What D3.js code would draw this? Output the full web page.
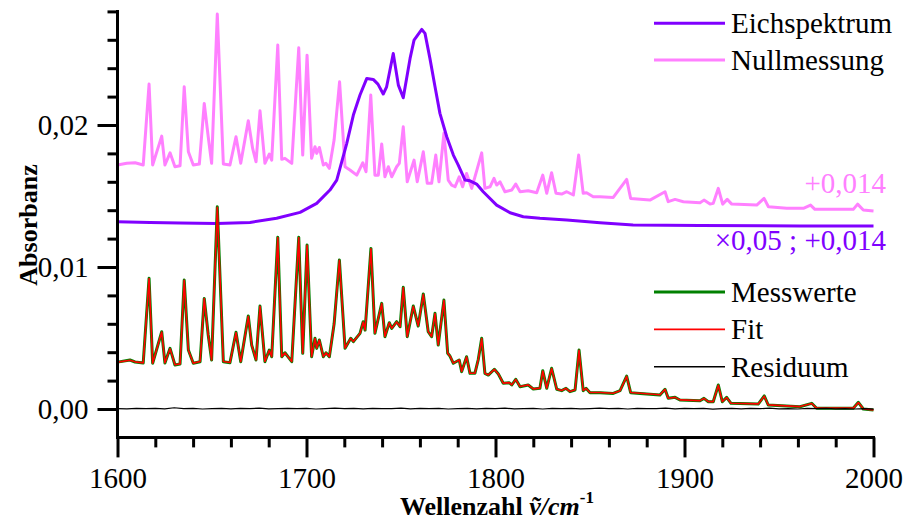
<!DOCTYPE html>
<html><head><meta charset="utf-8">
<script src="https://cdn.jsdelivr.net/npm/d3@7"></script>
<style>body{margin:0;background:#fff}svg{display:block}</style>
</head><body>
<svg id="c" width="904" height="525"></svg>
<script>
// ---- data ----
const wnM = [1600,1606.6,1609.3,1613.6,1616.7,1618.6,1623.4,1625.1,1627.8,1630.4,
1633.1,1635.3,1637.5,1640.1,1643.7,1645.9,1648.0,1649.8,1652.8,1656.0,
1659.5,1662.7,1665.2,1669.2,1671.0,1673.3,1675.4,1678.0,1680.3,1681.6,
1684.8,1686.9,1688.6,1692.2,1695.9,1698.0,1700.3,1702.7,1704.5,1705.4,
1706.8,1708.9,1710.3,1712.1,1714.6,1717.4,1720.4,1723.4,1724.8,1728.3,
1730.0,1731.0,1734.1,1736.2,1739.8,1741.5,1743.8,1745.1,1747.7,1749.5,
1751.2,1753.3,1756.5,1759.1,1761.8,1764.4,1766.2,1768.0,1769.7,1772.7,
1774.7,1775.9,1777.7,1780.8,1782.1,1784.7,1786.5,1789.1,1790.9,1792.7,
1794.4,1796.2,1799.4,1801.5,1804.1,1807.3,1808.6,1810.7,1813.0,1817.3,
1820.0,1823.5,1825.0,1827.1,1829.7,1832.4,1835.0,1837.3,1839.4,1842.1,
1844.2,1846.4,1847.9,1850.0,1855.3,1862.3,1865.9,1869.4,1871.5,1876.5,
1887.0,1889.7,1891.4,1895.0,1897.6,1908.2,1910.3,1912.6,1915.2,1917.9,
1920.0,1922.3,1924.6,1939.0,1942.2,1944.3,1961.1,1967.3,1969.9,1989.3,
1992.0,1994.6,2000];
const messwerte = [0.0033,0.00345,0.00331,0.00324,0.0092,0.00322,0.00544,0.00324,0.00427,0.0031,
0.00317,0.00908,0.00415,0.00322,0.00333,0.00779,0.00521,0.00345,0.01424,0.00333,
0.00326,0.0054,0.00333,0.00655,0.0045,0.00345,0.00725,0.00333,0.00415,0.00368,
0.01209,0.00368,0.00396,0.00333,0.01209,0.00392,0.01155,0.00368,0.00498,0.00427,
0.00486,0.00368,0.00396,0.00368,0.00598,0.01049,0.00427,0.00498,0.00474,0.00533,
0.00615,0.00556,0.01131,0.00533,0.00744,0.00509,0.00608,0.00568,0.00615,0.00579,
0.00857,0.00509,0.00725,0.00584,0.0081,0.00544,0.00509,0.00674,0.0045,0.00767,
0.00392,0.00373,0.00322,0.00345,0.00263,0.00368,0.00251,0.00251,0.0035,0.00498,
0.00251,0.00239,0.0028,0.00246,0.00181,0.00185,0.00169,0.00209,0.00157,0.00169,
0.00141,0.00146,0.0027,0.00146,0.00287,0.00139,0.00129,0.00146,0.00122,0.00134,
0.00415,0.00129,0.00146,0.00115,0.00115,0.0011,0.00129,0.00232,0.00115,0.0011,
0.00099,0.00139,0.00075,0.00082,0.00063,0.00058,0.00075,0.00051,0.00051,0.00169,
0.00051,0.00082,0.0004,0.00035,0.00092,0.00028,0.00016,0.0004,0.00005,0.00005,
0.00047,0,-0.00007];
const fit = [0.0033,0.00343,0.00332,0.00325,0.00918,0.00322,0.00542,0.00325,0.00425,0.00312,
0.00318,0.00906,0.00414,0.00323,0.00334,0.00777,0.0052,0.00346,0.01421,0.00334,
0.00327,0.00538,0.00334,0.00653,0.00451,0.00346,0.00723,0.00334,0.00414,0.00369,
0.01207,0.00369,0.00395,0.00334,0.01207,0.00393,0.01153,0.00369,0.00497,0.00428,
0.00485,0.00369,0.00395,0.00369,0.00597,0.01047,0.00428,0.00497,0.00475,0.00532,
0.00613,0.00557,0.01129,0.00534,0.00742,0.0051,0.00607,0.00569,0.00613,0.0058,
0.00855,0.0051,0.00723,0.00585,0.00808,0.00545,0.0051,0.00672,0.00451,0.00765,
0.00393,0.00374,0.00323,0.00346,0.00264,0.00367,0.00252,0.00252,0.00349,0.00496,
0.00252,0.0024,0.00279,0.00247,0.00182,0.00186,0.0017,0.00208,0.00158,0.0017,
0.00142,0.00147,0.00268,0.00147,0.00285,0.0014,0.0013,0.00146,0.00123,0.00135,
0.00413,0.0013,0.00146,0.00116,0.00116,0.00111,0.00129,0.0023,0.00116,0.00111,
0.001,0.00138,0.00076,0.00082,0.00064,0.00059,0.00075,0.00052,0.00052,0.00167,
0.00052,0.00081,0.00041,0.00036,0.0009,0.00029,0.00017,0.00039,0.00006,0.00006,
0.00045,0.00001,-0.00006];
const wnN = [1600,1604.9,1609.3,1613.6,1616.7,1618.6,1623.4,1625.1,1627.8,1630.4,
1633.1,1635.3,1637.5,1640.1,1643.3,1645.9,1648.0,1649.8,1652.8,1656.0,
1659.5,1662.7,1665.2,1669.2,1671.5,1673.3,1675.4,1678.0,1680.3,1681.6,
1684.8,1686.9,1688.6,1692.2,1695.9,1698.0,1700.3,1702.7,1704.5,1705.4,
1706.8,1708.9,1710.3,1712.1,1714.6,1717.5,1720.4,1723.0,1726.6,1729.8,
1731.5,1734.0,1736.2,1738.0,1739.8,1741.5,1743.3,1745.1,1747.7,1749.1,
1751.2,1753.3,1756.9,1758.6,1761.8,1763.9,1766.2,1768.4,1770.1,1772.7,
1775.0,1776.8,1778.6,1780.8,1782.6,1784.7,1787.4,1790.4,1792.7,1794.4,
1797.1,1799.2,1800.6,1802.4,1805.0,1808.6,1810.7,1813.0,1817.3,1821.8,
1825.0,1827.1,1829.7,1832.0,1835.0,1837.7,1841.2,1844.0,1846.4,1848.2,
1851.7,1855.3,1862.3,1869.4,1871.5,1881.7,1889.7,1891.4,1895.0,1899.4,
1908.2,1910.3,1913.5,1915.2,1917.9,1920.2,1922.6,1925.0,1938.2,1942.1,
1944.4,1954.1,1962.9,1966.7,1969.0,1978.7,1989.3,1991.6,1994.6,2000];
const nullmessung = [0.01718,0.0173,0.01734,0.01718,0.02288,0.01718,0.01922,0.01718,0.01804,0.01706,
0.01713,0.02269,0.01811,0.01718,0.01725,0.02152,0.01917,0.0173,0.02781,0.01725,
0.01718,0.01917,0.0173,0.0203,0.01835,0.01741,0.021,0.0173,0.01795,0.01753,
0.02563,0.01758,0.01765,0.0173,0.02544,0.01788,0.02492,0.01765,0.01847,0.018,
0.01842,0.01718,0.0173,0.01695,0.01894,0.02304,0.01706,0.01683,0.01647,0.01734,
0.01671,0.02211,0.01647,0.01647,0.01866,0.01635,0.01706,0.01635,0.01706,0.0173,
0.01987,0.016,0.01753,0.016,0.01811,0.01589,0.01589,0.01788,0.016,0.01941,
0.01612,0.01577,0.01565,0.01635,0.01565,0.01659,0.01554,0.01695,0.01804,0.01554,
0.01565,0.01624,0.01577,0.016,0.0153,0.01542,0.01584,0.0153,0.01537,0.01523,
0.01647,0.01519,0.01664,0.01519,0.01514,0.0153,0.01507,0.01788,0.01519,0.01523,
0.01495,0.01495,0.0149,0.01617,0.01483,0.01471,0.0153,0.0146,0.01476,0.0146,
0.01452,0.01471,0.01443,0.01448,0.01554,0.01443,0.01476,0.01443,0.01436,0.01483,
0.01424,0.01413,0.01413,0.01436,0.01406,0.01406,0.01406,0.01443,0.01401,0.01394];
const wnE = [1600,1617.2,1633.1,1652.5,1670.1,1684.2,1696.6,1705.4,1712.4,1716.0,
1717.7,1721.3,1724.8,1728.3,1731.9,1735.3,1737.8,1740.6,1742.4,1745.9,
1748.6,1751.2,1754.8,1756.9,1761.0,1762.7,1765.3,1768.0,1770.6,1774.2,
1777.7,1780.3,1783.9,1786.5,1790.0,1793.5,1800.6,1807.7,1814.7,1823.5,
1837.7,1855.3,1872.8,1908.2,1961.1,2000];
const eichspektrum = [0.01319,0.01313,0.0131,0.01307,0.01314,0.01343,0.01385,0.01448,0.01542,0.01612,
0.01695,0.01871,0.0207,0.02211,0.02328,0.02321,0.02288,0.02218,0.02269,0.02504,
0.02281,0.02192,0.02469,0.02598,0.02673,0.02645,0.02469,0.02269,0.02082,0.01917,
0.01788,0.01718,0.01612,0.01607,0.01584,0.0153,0.01436,0.01382,0.01354,0.01343,
0.01331,0.01312,0.01295,0.01292,0.01289,0.01289];
const wnR = [1600,1605,1610,1615,1620,1625,1630,1635,1640,1645,
1650,1655,1660,1665,1670,1675,1680,1685,1690,1695,
1700,1705,1710,1715,1720,1725,1730,1735,1740,1745,
1750,1755,1760,1765,1770,1775,1780,1785,1790,1795,
1800,1805,1810,1815,1820,1825,1830,1835,1840,1845,
1850,1855,1860,1865,1870,1875,1880,1885,1890,1895,
1900,1905,1910,1915,1920,1925,1930,1935,1940,1945,
1950,1955,1960,1965,1970,1975,1980,1985,1990,1995,
2000];
const residuum = [0.00003,0.00001,0.00004,0.00002,0.00005,0.00001,0.00009,0.00002,0.00004,0.00000,
0.00003,0.00005,0.00001,0.00004,0.00002,0.00006,0.00001,0.00003,0.00005,0.00002,
0.00004,0.00000,0.00003,0.00006,0.00002,0.00004,0.00001,0.00005,0.00002,0.00003,
0.00006,0.00001,0.00004,0.00002,0.00005,0.00000,0.00003,0.00005,0.00001,0.00004,
0.00002,0.00006,0.00001,0.00003,0.00005,0.00000,0.00004,0.00002,0.00005,0.00001,
0.00003,0.00006,0.00002,0.00004,0.00000,0.00005,0.00002,0.00003,0.00006,0.00001,
0.00004,0.00002,0.00005,-0.00001,0.00003,0.00005,0.00001,0.00004,0.00002,0.00006,
0.00001,0.00003,0.00000,0.00004,0.00002,0.00005,0.00001,0.00003,0.00000,0.00002,
-0.00001];
const xMajorTicks = [1600,1700,1800,1900,2000];
const xMinorTicks = [1620,1640,1660,1680,1720,1740,1760,1780,1820,1840,1860,1880,1920,1940,1960,1980];
const yMajorTicks = [0,0.01,0.02];
const yMinorTicks = [0.002,0.004,0.006,0.008,0.012,0.014,0.016,0.018,0.022,0.024,0.026,0.028];
const legendTop = ["Eichspektrum","Nullmessung"];
const legendBottom = ["Messwerte","Fit","Residuum"];
const noteNull = "+0,014";
const noteEich = "\u00d70,05 ; +0,014";

// ---- drawing ----
const svg = d3.select("#c");
const SERIF = "'Liberation Serif','Times New Roman',serif";
const x = d3.scaleLinear().domain([1600,2000]).range([117.5,873.5]);
const y = d3.scaleLinear().domain([-0.002,0.028]).range([437.4,11.4]);
const fmt = d => d3.format(".2f")(d).replace(".",",");

function series(xs, ys, color, width){
  const pts = xs.map((v,i)=>[v,ys[i]]);
  svg.append("path").datum(pts)
    .attr("fill","none").attr("stroke",color).attr("stroke-width",width)
    .attr("stroke-linejoin","round")
    .attr("d", d3.line().x(d=>x(d[0])).y(d=>y(d[1])));
}
series(wnN, nullmessung, "#ff80ff", 3);
series(wnE, eichspektrum, "#8000ff", 3);
series(wnM, messwerte, "#008000", 3);
series(wnM, fit, "#ff0000", 1.6);
series(wnR, residuum, "#000000", 1.2);

function styleAxis(g){
  g.select(".domain").remove();
  g.selectAll(".tick line").attr("stroke","#000").attr("stroke-width",3);
  g.selectAll(".tick text").attr("font-family",SERIF).attr("font-size",29).attr("fill","#000");
}
const yA = 117.5, xA = 437.4;
svg.append("g").attr("transform",`translate(${yA},0)`)
  .call(d3.axisLeft(y).tickValues(yMajorTicks).tickSize(20).tickPadding(9).tickFormat(fmt)).call(styleAxis);
svg.append("g").attr("transform",`translate(${yA},0)`)
  .call(d3.axisLeft(y).tickValues(yMinorTicks).tickSize(10).tickFormat("")).call(styleAxis);
svg.append("g").attr("transform",`translate(0,${xA})`)
  .call(d3.axisBottom(x).tickValues(xMajorTicks).tickSize(20).tickPadding(10).tickFormat(d3.format("d"))).call(styleAxis);
svg.append("g").attr("transform",`translate(0,${xA})`)
  .call(d3.axisBottom(x).tickValues(xMinorTicks).tickSize(10).tickFormat("")).call(styleAxis);
svg.append("line").attr("x1",yA).attr("x2",yA).attr("y1",10).attr("y2",xA+1.5).attr("stroke","#000").attr("stroke-width",3);
svg.append("line").attr("x1",yA-1.5).attr("x2",x(2000)+1.5).attr("y1",xA).attr("y2",xA).attr("stroke","#000").attr("stroke-width",3);

// axis titles
svg.append("text").attr("transform","translate(37,225) rotate(-90)")
  .attr("text-anchor","middle").attr("font-family",SERIF).attr("font-weight","bold").attr("font-size",26)
  .text("Absorbanz");
const xt = svg.append("text").attr("x",497).attr("y",515).attr("text-anchor","middle")
  .attr("font-family",SERIF).attr("font-weight","bold").attr("font-size",26);
xt.append("tspan").text("Wellenzahl ");
xt.append("tspan").attr("font-style","italic").text("\u1e7d/cm");
xt.append("tspan").attr("font-size",17).attr("dy",-12).text("-1");

// legends
const legColors = {"Eichspektrum":"#8000ff","Nullmessung":"#ff80ff","Messwerte":"#008000","Fit":"#ff0000","Residuum":"#000"};
const legWidths = {"Eichspektrum":3,"Nullmessung":3,"Messwerte":3,"Fit":1.6,"Residuum":1.4};
function legend(items, y0, dy){
  items.forEach((name,i)=>{
    const yy = y0 + i*dy;
    svg.append("line").attr("x1",654).attr("x2",725).attr("y1",yy).attr("y2",yy)
      .attr("stroke",legColors[name]).attr("stroke-width",legWidths[name]);
    svg.append("text").attr("x",731).attr("y",yy+10).attr("font-family",SERIF).attr("font-size",29)
      .attr("fill","#000").text(name);
  });
}
legend(legendTop, 23.3, 36.8);
legend(legendBottom, 292, 37.4);

svg.append("text").attr("x",886).attr("y",193).attr("text-anchor","end").attr("font-family",SERIF)
  .attr("font-size",29).attr("fill","#ff80ff").text(noteNull);
svg.append("text").attr("x",886).attr("y",250).attr("text-anchor","end").attr("font-family",SERIF)
  .attr("font-size",29).attr("fill","#8000ff").text(noteEich);
</script>
</body></html>
